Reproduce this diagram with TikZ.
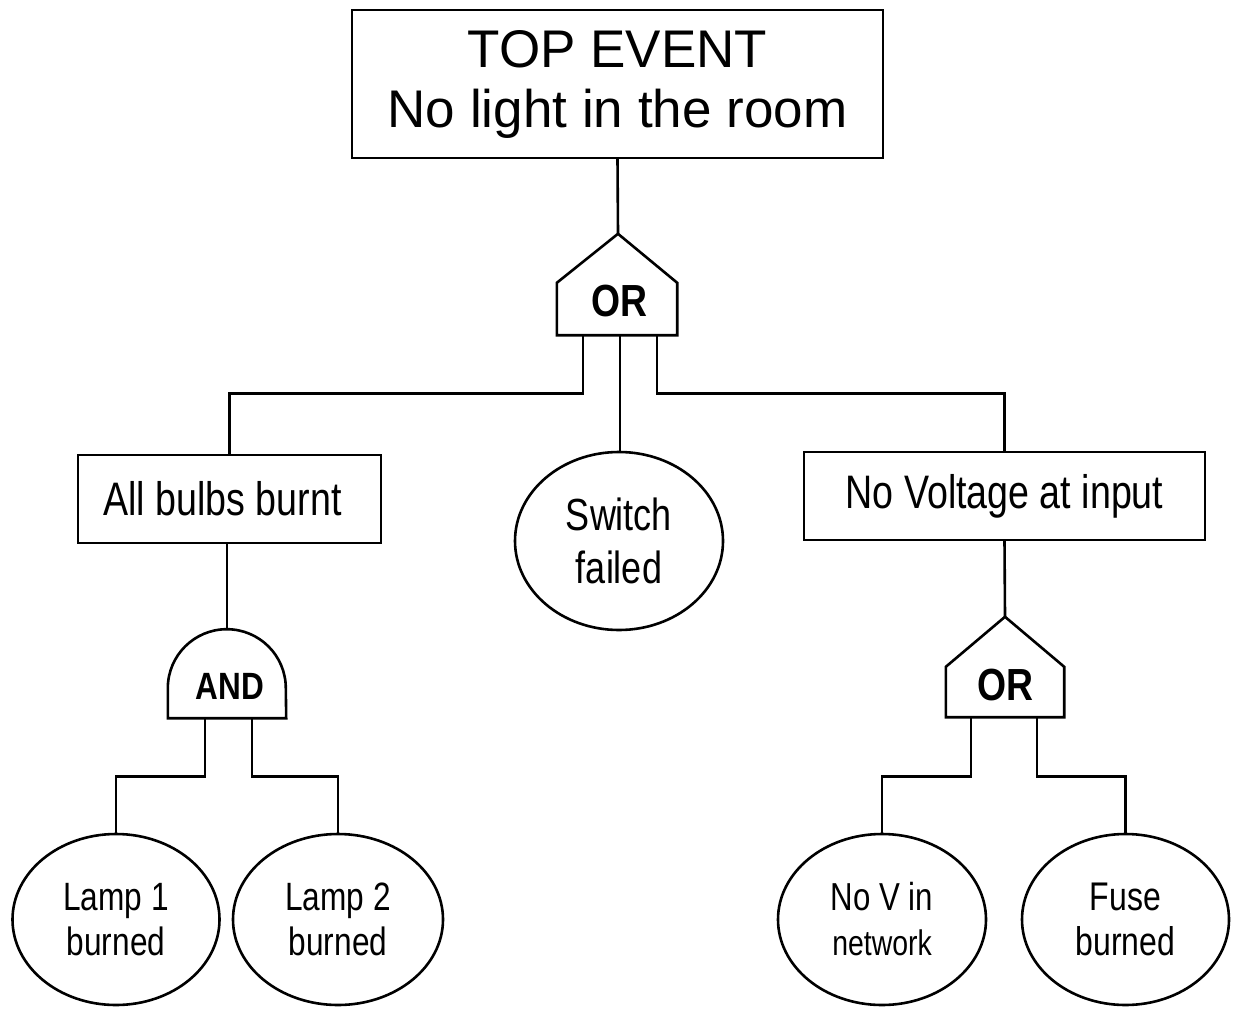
\documentclass[tikz,border=0pt]{standalone}
\usepackage{fontspec}
\setmainfont{Liberation Sans}
\newfontfamily\narrowf[FakeStretch=0.8]{Liberation Sans}
\newfontfamily\narrowbf[FakeStretch=0.83]{Liberation Sans Bold}
\usetikzlibrary{shapes.geometric,calc}
\tikzset{
  ln/.style={line width=2.6pt, line join=miter, line cap=rect},
  evbox/.style={draw, ln, rectangle, inner sep=0pt, align=center},
  basicev/.style={draw, ln, ellipse, inner sep=0pt, align=center,
    minimum width=207pt, minimum height=171pt},
  gatelbl/.style={inner sep=0pt, font=\narrowbf\fontsize{45}{50}\selectfont},
}
\begin{document}
\begin{tikzpicture}[x=1pt,y=-1pt]
\useasboundingbox (0,0) rectangle (1233,1011);
% top event
\node[evbox, minimum width=531pt, minimum height=148pt,
  font=\fontsize{53}{60}\selectfont] (top) at (617.5,84) {TOP EVENT\\No light in the room};
% OR gate 1
\node[gatelbl, minimum width=120pt, minimum height=52pt, text height=32pt, text depth=18pt] (or1) at (617,309) {\hspace*{5pt}OR};
\coordinate (or1apex) at ($(or1.north)+(1,-49)$);
\draw[ln] (or1.south west) -- (or1.north west) -- (or1apex) -- (or1.north east) -- (or1.south east) -- cycle;
\coordinate (or1o1) at ($(or1.south)+(-34,0)$);
\coordinate (or1o2) at ($(or1.south)+(3,0)$);
\coordinate (or1o3) at ($(or1.south)+(40,0)$);
% intermediate events
\node[evbox, minimum width=303pt, minimum height=88pt,
  font=\narrowf\fontsize{47}{53}\selectfont] (bulbs) at (229.5,499) {\hspace*{-14pt}All bulbs burnt};
\node[basicev, minimum width=208pt, minimum height=178pt,
  font=\narrowf\fontsize{45}{53}\selectfont] (switch) at (619,541) {Switch\\failed};
\node[evbox, minimum width=401pt, minimum height=88pt,
  font=\narrowf\fontsize{47}{53}\selectfont] (novolt) at (1004.5,496) {No Voltage at input};
% AND gate
\node[gatelbl, font=\narrowbf\fontsize{38}{44}\selectfont, minimum width=118pt, minimum height=89pt,
  text height=52pt, text depth=0pt] (and1) at (227,673.5) {\hspace*{6pt}AND};
\draw[ln] (and1.south west) -- ++(0,-30) arc[start angle=180, end angle=360, radius=59] -- (and1.south east) -- cycle;
\coordinate (and1o1) at ($(and1.south)+(-22,0)$);
\coordinate (and1o2) at ($(and1.south)+(25,0)$);
% OR gate 2
\node[gatelbl, minimum width=118pt, minimum height=50pt, text height=32pt, text depth=16pt] (or2) at (1005,692) {OR};
\coordinate (or2apex) at ($(or2.north)+(0,-50)$);
\draw[ln] (or2.south west) -- (or2.north west) -- (or2apex) -- (or2.north east) -- (or2.south east) -- cycle;
\coordinate (or2o1) at ($(or2.south)+(-34,0)$);
\coordinate (or2o2) at ($(or2.south)+(32,0)$);
% basic events
\node[basicev, minimum width=207pt, font=\narrowf\fontsize{39.5}{45}\selectfont] (lamp1) at (116,919.5) {Lamp 1\\burned};
\node[basicev, minimum width=210pt, font=\narrowf\fontsize{39.5}{45}\selectfont] (lamp2) at (338,919.5) {Lamp 2\\burned};
\node[basicev, minimum width=208pt, font=\narrowf\fontsize{39}{45}\selectfont] (nov) at (882,919.5) {No V in\\{\fontsize{35.5}{40}\selectfont network}};
\node[basicev, minimum width=207pt, font=\narrowf\fontsize{40}{45}\selectfont] (fuse) at (1125.5,919.5) {Fuse\\burned};
% connectors
\draw[ln] (top.south) -- (or1apex);
\draw[ln] (or1o1) -- ++(0,58) -| (bulbs.north);
\draw[ln] (or1o2) -- (or1o2 |- switch.north);
\draw[ln] (or1o3) -- ++(0,58) -| (novolt.north);
\draw[ln] (and1.north |- bulbs.south) -- (and1.north);
\draw[ln] (novolt.south) -- (or2apex);
\draw[ln] (and1o1) -- ++(0,58) -| (lamp1.north);
\draw[ln] (and1o2) -- ++(0,58) -| (lamp2.north);
\draw[ln] (or2o1) -- ++(0,59) -| (nov.north);
\draw[ln] (or2o2) -- ++(0,59) -| (fuse.north);
\end{tikzpicture}
\end{document}
